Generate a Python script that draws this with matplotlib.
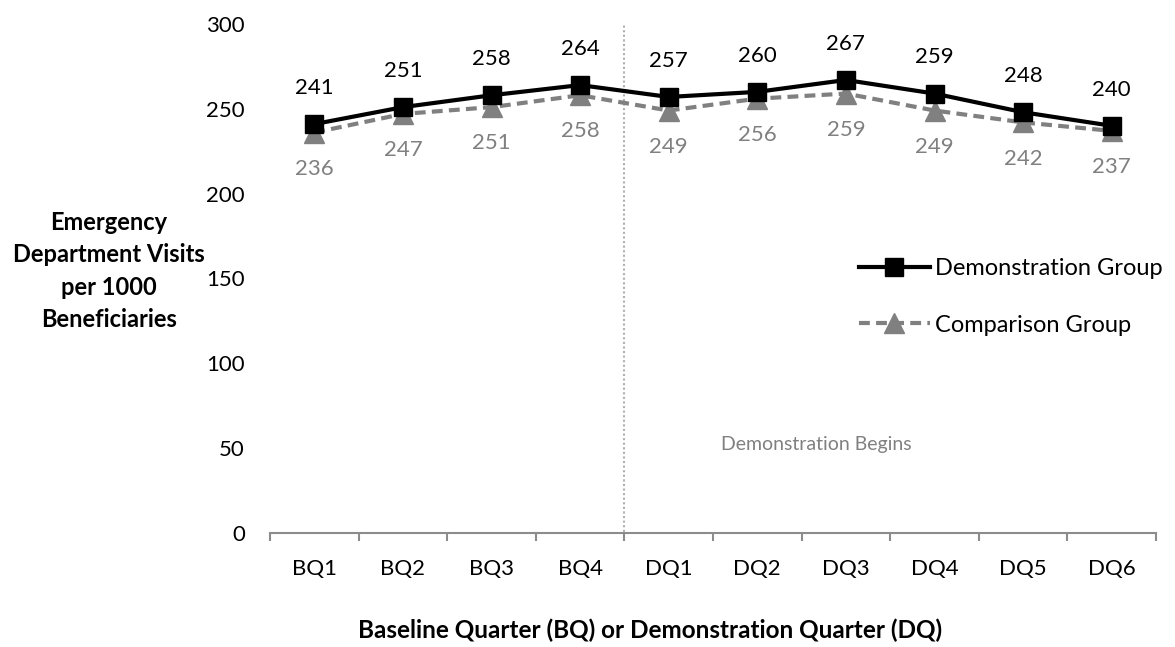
import matplotlib
matplotlib.use("Agg")
import matplotlib.pyplot as plt
from matplotlib.lines import Line2D
import numpy as np

quarters = ["BQ1", "BQ2", "BQ3", "BQ4", "DQ1", "DQ2", "DQ3", "DQ4", "DQ5", "DQ6"]
demonstration = [241, 251, 258, 264, 257, 260, 267, 259, 248, 240]
comparison = [236, 247, 251, 258, 249, 256, 259, 249, 242, 237]
y_ticks = [0, 50, 100, 150, 200, 250, 300]

plt.rcParams["font.family"] = ["Lato", "DejaVu Sans"]

BLACK = "#000000"
GREY = "#808080"
AXIS_GREY = "#8c8c8c"
DASH = (0, (2.6, 1.5))

fig = plt.figure(figsize=(11.75, 6.47), dpi=100)
ax = fig.add_axes([270 / 1175, 1 - 533 / 647, (1156 - 270) / 1175, (533 - 24) / 647])

x = np.arange(len(quarters))

ax.plot(x, comparison, color=GREY, lw=3.0, ls=DASH, marker="^",
        ms=14, mfc=GREY, mec=GREY, zorder=3)
ax.plot(x, demonstration, color=BLACK, lw=3.0, marker="s",
        ms=13, mfc=BLACK, mec=BLACK, zorder=4)

for xi, v in zip(x, demonstration):
    ax.annotate(f"{v}", (xi, v), xytext=(0, 26), textcoords="offset points",
                ha="center", va="center", fontsize=16, color=BLACK)
for xi, v in zip(x, comparison):
    ax.annotate(f"{v}", (xi, v), xytext=(0, -26), textcoords="offset points",
                ha="center", va="center", fontsize=16, color=GREY)

# start of the demonstration period
ax.plot([3.5, 3.5], [-5, 300], color="#b0b0b0", lw=1.5, ls=(0, (1, 1.2)),
        zorder=1, clip_on=False)
ax.text(5.67, 52, "Demonstration Begins", ha="center", va="center",
        fontsize=14, color=GREY)

ax.set_xlim(-0.5, len(quarters) - 0.5)
ax.set_ylim(0, 300)
ax.set_yticks(y_ticks)
ax.set_yticklabels([str(t) for t in y_ticks], fontsize=16)
ax.tick_params(axis="y", length=0, pad=18)

ax.set_xticks(np.arange(-0.5, len(quarters), 1.0))
ax.set_xticklabels([])
ax.tick_params(axis="x", which="major", length=6, width=1.5, color=AXIS_GREY,
               direction="out")
ax.set_xticks(x, minor=True)
ax.set_xticklabels(quarters, minor=True, fontsize=16)
ax.tick_params(axis="x", which="minor", length=0, pad=19)

for side in ["left", "right", "top"]:
    ax.spines[side].set_visible(False)
ax.spines["bottom"].set_color(AXIS_GREY)
ax.spines["bottom"].set_linewidth(1.5)

fig.text(109 / 1175, 1 - 271 / 647,
         "Emergency\nDepartment Visits\nper 1000\nBeneficiaries",
         ha="center", va="center", fontsize=17, fontweight="bold",
         linespacing=1.5)
fig.text(650 / 1175, 1 - 630 / 647,
         "Baseline Quarter (BQ) or Demonstration Quarter (DQ)",
         ha="center", va="center", fontsize=17.5, fontweight="bold")

handles = [
    Line2D([], [], color=BLACK, lw=3.0, marker="s", ms=13),
    Line2D([], [], color=GREY, lw=3.0, ls=DASH, marker="^", ms=14),
]
leg = fig.legend(handles, ["Demonstration Group", "Comparison Group"],
                 loc="center left", bbox_to_anchor=(859 / 1175, 1 - 297 / 647),
                 frameon=False, fontsize=17, handlelength=3.0,
                 handletextpad=0.2, labelspacing=1.5, borderpad=0,
                 borderaxespad=0)

fig.savefig("out.png", dpi=100)
